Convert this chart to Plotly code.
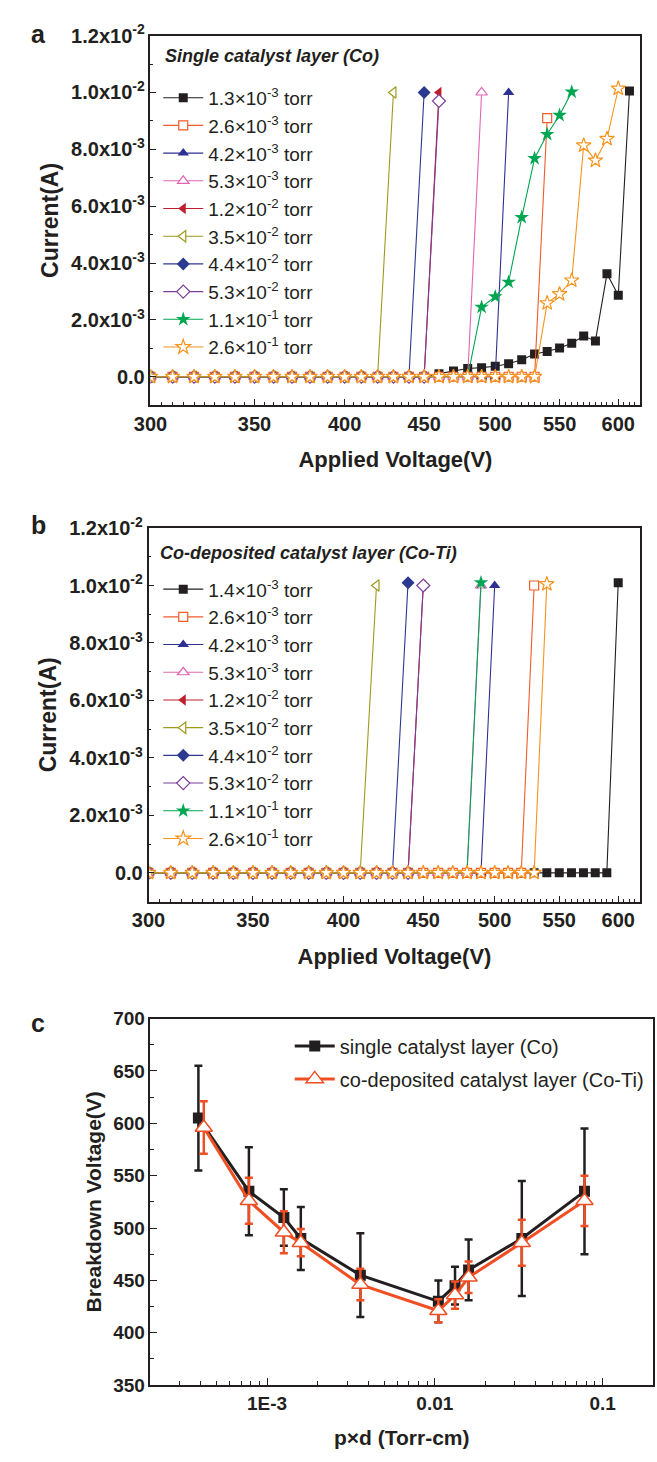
import math
import plotly.graph_objects as go

W, H = 657, 1462
FONT = "Liberation Sans, Arial, sans-serif"

# ---------------- data ----------------
V = [300, 310, 320, 330, 340, 350, 360, 370, 380, 390, 400, 410, 420, 430, 440, 450,
     460, 470, 480, 490, 500, 510, 520, 530, 540, 550, 560, 570, 580, 590, 600, 610]

labels_a = ["1.3×10<sup>-3</sup> torr", "2.6×10<sup>-3</sup> torr", "4.2×10<sup>-3</sup> torr",
            "5.3×10<sup>-3</sup> torr", "1.2×10<sup>-2</sup> torr", "3.5×10<sup>-2</sup> torr",
            "4.4×10<sup>-2</sup> torr", "5.3×10<sup>-2</sup> torr", "1.1×10<sup>-1</sup> torr",
            "2.6×10<sup>-1</sup> torr"]
labels_b = ["1.4×10<sup>-3</sup> torr"] + labels_a[1:]

# currents in mA, measured at V[0], V[1], ...
cur_a = [
    [0, 0, 0, 0, 0, 0, 0, 0, 0, 0, 0, 0, 0, 0, 0, 0,
     0.11, 0.20, 0.29, 0.32, 0.37, 0.46, 0.60, 0.80, 0.89, 1.01, 1.18, 1.43, 1.26, 3.62, 2.87, 10.05],
    [0, 0, 0, 0, 0, 0, 0, 0, 0, 0, 0, 0, 0, 0, 0, 0, 0, 0, 0, 0, 0, 0, 0, 0, 9.10],
    [0, 0, 0, 0, 0, 0, 0, 0, 0, 0, 0, 0, 0, 0, 0, 0, 0, 0, 0, 0, 0, 10.0],
    [0, 0, 0, 0, 0, 0, 0, 0, 0, 0, 0, 0, 0, 0, 0, 0, 0, 0, 0, 10.0],
    [0, 0, 0, 0, 0, 0, 0, 0, 0, 0, 0, 0, 0, 0, 0, 0, 10.0],
    [0, 0, 0, 0, 0, 0, 0, 0, 0, 0, 0, 0, 0, 10.0],
    [0, 0, 0, 0, 0, 0, 0, 0, 0, 0, 0, 0, 0, 0, 0, 10.0],
    [0, 0, 0, 0, 0, 0, 0, 0, 0, 0, 0, 0, 0, 0, 0, 0, 9.70],
    [0, 0, 0, 0, 0, 0, 0, 0, 0, 0, 0, 0, 0, 0, 0, 0, 0, 0, 0,
     2.45, 2.82, 3.33, 5.61, 7.68, 8.53, 9.20, 10.02],
    [0, 0, 0, 0, 0, 0, 0, 0, 0, 0, 0, 0, 0, 0, 0, 0, 0, 0, 0, 0, 0, 0, 0, 0,
     2.59, 2.91, 3.39, 8.14, 7.61, 8.37, 10.14],
]
cur_b = [
    [0, 0, 0, 0, 0, 0, 0, 0, 0, 0, 0, 0, 0, 0, 0, 0, 0, 0, 0, 0, 0, 0, 0, 0, 0, 0, 0, 0, 0, 0, 10.10],
    [0, 0, 0, 0, 0, 0, 0, 0, 0, 0, 0, 0, 0, 0, 0, 0, 0, 0, 0, 0, 0, 0, 0, 10.0],
    [0, 0, 0, 0, 0, 0, 0, 0, 0, 0, 0, 0, 0, 0, 0, 0, 0, 0, 0, 0, 10.0],
    [0, 0, 0, 0, 0, 0, 0, 0, 0, 0, 0, 0, 0, 0, 0, 0, 0, 0, 0, 10.0],
    [0, 0, 0, 0, 0, 0, 0, 0, 0, 0, 0, 0, 0, 0, 0, 10.0],
    [0, 0, 0, 0, 0, 0, 0, 0, 0, 0, 0, 0, 10.0],
    [0, 0, 0, 0, 0, 0, 0, 0, 0, 0, 0, 0, 0, 0, 10.1],
    [0, 0, 0, 0, 0, 0, 0, 0, 0, 0, 0, 0, 0, 0, 0, 10.0],
    [0, 0, 0, 0, 0, 0, 0, 0, 0, 0, 0, 0, 0, 0, 0, 0, 0, 0, 0, 10.1],
    [0, 0, 0, 0, 0, 0, 0, 0, 0, 0, 0, 0, 0, 0, 0, 0, 0, 0, 0, 0, 0, 0, 0, 0, 10.05],
]

# panel c
pd_co = [3.9e-4, 7.8e-4, 1.26e-3, 1.59e-3, 3.6e-3, 1.05e-2, 1.32e-2, 1.59e-2, 3.3e-2, 7.8e-2]
vb_co = [605, 535, 510, 490, 455, 430, 445, 460, 490, 535]
err_co = [50, 42, 27, 30, 40, 20, 18, 29, 55, 60]
pd_coti = [4.2e-4, 7.8e-4, 1.26e-3, 1.59e-3, 3.6e-3, 1.05e-2, 1.32e-2, 1.59e-2, 3.3e-2, 7.8e-2]
vb_coti = [596, 526, 496, 486, 446, 421, 436, 453, 486, 526]
err_coti = [25, 22, 20, 13, 15, 11, 13, 15, 22, 24]

xticks_v = [300, 350, 400, 450, 500, 550, 600]
yticks_i = [0, 2, 4, 6, 8, 10, 12]
yticks_i_text = ["0.0", "2.0x10<sup>-3</sup>", "4.0x10<sup>-3</sup>", "6.0x10<sup>-3</sup>",
                 "8.0x10<sup>-3</sup>", "1.0x10<sup>-2</sup>", "1.2x10<sup>-2</sup>"]
xticks_c = [1e-3, 1e-2, 1e-1]
xticks_c_text = ["1E-3", "0.01", "0.1"]

# ---------------- styles ----------------
colors = ["#231f20", "#f15a29", "#2e3192", "#e066b6", "#be1e2d",
          "#9e9a1e", "#2b3990", "#7b3f98", "#00a651", "#f7941d"]
symbols = ["square", "square", "triangle-up", "triangle-up", "triangle-left",
           "triangle-left", "diamond", "diamond", "star", "star"]
filled = [True, False, True, False, True, False, True, False, True, False]
sizes = [9, 9, 10, 10, 10, 10, 10, 10, 11, 11]
INK = "#231f20"


def px_x(p):
    return p / W


def px_y(p):
    return 1 - p / H


fig = go.Figure()


def add_panel(cur, labels, xa, ya, legend):
    for i, c in enumerate(cur):
        x = V[:len(c)]
        y = [v * 1e-3 for v in c]
        mk = dict(symbol=symbols[i], size=sizes[i])
        if filled[i]:
            mk.update(color=colors[i], line=dict(width=0, color=colors[i]))
        else:
            mk.update(color="white", line=dict(width=1.2, color=colors[i]))
        fig.add_trace(go.Scatter(
            x=x, y=y, mode="lines+markers", name=labels[i],
            line=dict(color=colors[i], width=1.1), marker=mk,
            xaxis=xa, yaxis=ya, legend=legend, legendgroup=legend + str(i)))


add_panel(cur_a, labels_a, "x", "y", "legend")
add_panel(cur_b, labels_b, "x2", "y2", "legend2")

RED = "#f04e23"
fig.add_trace(go.Scatter(
    x=pd_co, y=vb_co, mode="lines+markers", name="single catalyst layer (Co)",
    line=dict(color=INK, width=3), marker=dict(symbol="square", size=11, color=INK),
    error_y=dict(type="data", array=err_co, color=INK, thickness=2.5, width=4),
    xaxis="x3", yaxis="y3", legend="legend3", legendgroup="c0"))
fig.add_trace(go.Scatter(
    x=pd_coti, y=vb_coti, mode="lines+markers", name="co-deposited catalyst layer (Co-Ti)",
    line=dict(color=RED, width=3),
    marker=dict(symbol="triangle-up", size=15, color="white", line=dict(color=RED, width=1.5)),
    error_y=dict(type="data", array=err_coti, color=RED, thickness=2.5, width=4),
    xaxis="x3", yaxis="y3", legend="legend3", legendgroup="c1"))

tickfont = dict(family=FONT, size=20, color=INK, weight="bold")
tickfont_c = dict(family=FONT, size=19, color=INK, weight="bold")
titlefont_x = dict(family=FONT, size=22, color=INK, weight="bold")
titlefont_y = dict(family=FONT, size=23, color=INK, weight="bold")
titlefont_c = dict(family=FONT, size=21, color=INK, weight="bold")

minor_v = [v for v in range(305, 621, 5) if v not in xticks_v]


def xaxis_v(dom, anchor):
    return dict(domain=dom, anchor=anchor, type="log",
                range=[math.log10(300), math.log10(620)],
                tickmode="array", tickvals=xticks_v, ticktext=[str(t) for t in xticks_v],
                ticks="inside", ticklen=6, tickwidth=1.2, tickcolor=INK,
                minor=dict(tickmode="array", tickvals=minor_v, ticks="inside", ticklen=3,
                           tickwidth=1, tickcolor=INK),
                showline=True, linecolor=INK, linewidth=1.5, mirror=True,
                showgrid=False, zeroline=False, tickfont=tickfont,
                title=dict(text="Applied Voltage(V)", font=titlefont_x, standoff=18))


def yaxis_i(dom, anchor):
    return dict(domain=dom, anchor=anchor, range=[-1e-3, 1.2e-2],
                tickmode="array", tickvals=[t * 1e-3 for t in yticks_i], ticktext=yticks_i_text,
                ticks="inside", ticklen=6, tickwidth=1.2, tickcolor=INK,
                minor=dict(tickmode="array", tickvals=[t * 1e-3 for t in [1, 3, 5, 7, 9, 11]],
                           ticks="inside", ticklen=3, tickwidth=1, tickcolor=INK),
                showline=True, linecolor=INK, linewidth=1.5, mirror=True,
                showgrid=False, zeroline=False, tickfont=tickfont,
                title=dict(text="Current(A)", font=titlefont_y, standoff=6))


minor_c = [3e-4, 4e-4, 5e-4, 6e-4, 7e-4, 8e-4, 9e-4, 2e-3, 3e-3, 4e-3, 5e-3, 6e-3, 7e-3, 8e-3, 9e-3,
           2e-2, 3e-2, 4e-2, 5e-2, 6e-2, 7e-2, 8e-2, 9e-2, 2e-1]

legend_ab = dict(xanchor="left", yanchor="top", bgcolor="rgba(0,0,0,0)", borderwidth=0,
                 traceorder="grouped", tracegroupgap=0, itemwidth=40,
                 font=dict(family=FONT, size=19, color=INK))

fig.update_layout(
    width=W, height=H, margin=dict(l=0, r=0, t=0, b=0),
    paper_bgcolor="white", plot_bgcolor="white", showlegend=True,
    font=dict(family=FONT, color=INK),
    xaxis=xaxis_v([px_x(137), px_x(640)], "y"),
    yaxis=yaxis_i([px_y(398), px_y(22)], "x"),
    xaxis2=xaxis_v([px_x(135), px_x(640)], "y2"),
    yaxis2=yaxis_i([px_y(903), px_y(523)], "x2"),
    xaxis3=dict(domain=[px_x(137), px_x(653)], anchor="y3", type="log",
                range=[math.log10(2.02e-4), math.log10(0.2)],
                tickmode="array", tickvals=xticks_c, ticktext=xticks_c_text,
                ticks="inside", ticklen=7, tickwidth=1.2, tickcolor=INK,
                minor=dict(tickmode="array", tickvals=minor_c, ticks="inside", ticklen=4,
                           tickwidth=1, tickcolor=INK),
                showline=True, linecolor=INK, linewidth=1.5, mirror=True,
                showgrid=False, zeroline=False, tickfont=tickfont_c,
                title=dict(text="p×d (Torr-cm)", font=titlefont_c, standoff=18)),
    yaxis3=dict(domain=[px_y(1395), px_y(1022)], anchor="x3", range=[350, 700],
                tickmode="linear", tick0=350, dtick=50,
                ticks="inside", ticklen=7, tickwidth=1.2, tickcolor=INK,
                minor=dict(dtick=25, ticks="inside", ticklen=4, tickwidth=1, tickcolor=INK),
                showline=True, linecolor=INK, linewidth=1.5, mirror=True,
                showgrid=False, zeroline=False, tickfont=tickfont_c,
                title=dict(text="Breakdown Voltage(V)", font=titlefont_c, standoff=6)),
    legend=dict(legend_ab, x=px_x(145), y=px_y(66)),
    legend2=dict(legend_ab, x=px_x(145), y=px_y(566)),
    legend3=dict(x=px_x(280), y=px_y(1030), xanchor="left", yanchor="top",
                 bgcolor="rgba(0,0,0,0)", borderwidth=0, traceorder="grouped",
                 tracegroupgap=4, itemwidth=40,
                 font=dict(family=FONT, size=20, color=INK)),
)

ann_font = dict(family=FONT, size=25, color=INK, weight="bold")
title_font = dict(family=FONT, size=18, color=INK, weight="bold", style="italic")
for txt, y in [("a", 20), ("b", 520), ("c", 1027)]:
    fig.add_annotation(x=px_x(22), y=px_y(y), xref="paper", yref="paper", text=txt,
                       showarrow=False, xanchor="center", yanchor="middle", font=ann_font)
fig.add_annotation(x=px_x(150), y=px_y(43), xref="paper", yref="paper",
                   text="Single catalyst layer (Co)", showarrow=False,
                   xanchor="left", yanchor="middle", font=title_font)
fig.add_annotation(x=px_x(145), y=px_y(548), xref="paper", yref="paper",
                   text="Co-deposited catalyst layer (Co-Ti)", showarrow=False,
                   xanchor="left", yanchor="middle", font=title_font)

fig.write_html("out.html")
